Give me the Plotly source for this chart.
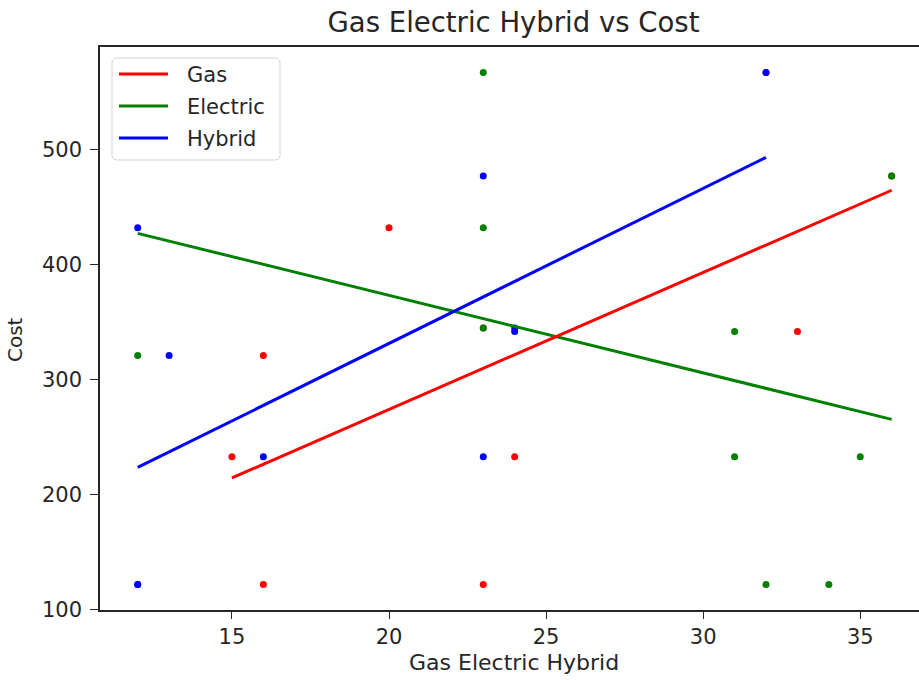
import numpy as np
import plotly.graph_objects as go

# Data (each row = one cost value with gas / electric / hybrid x-values)
cost = [122, 122, 233, 233, 321, 345, 342, 432, 477, 567]
gas = [16, 23, 15, 24, 16, 23, 33, 20, 36, 32]
electric = [32, 34, 31, 35, 12, 23, 31, 23, 36, 23]
hybrid = [12, 12, 16, 23, 13, 24, 24, 12, 23, 32]

series_names = ["Gas", "Electric", "Hybrid"]
series_x = [gas, electric, hybrid]
series_colors = ["red", "green", "blue"]

x_ticks = [15, 20, 25, 30, 35]
y_ticks = [100, 200, 300, 400, 500]

FONT = "DejaVu Sans"
TXT = "#262626"

L, R, T, B, W, H = 100, 0, 47, 70, 919, 680
PW, PH = W - L - R, H - T - B


def px(xp):
    return (xp - L) / PW


def py(yp):
    return 1 - (yp - T) / PH


fig = go.Figure()

# scatter points: red, green, blue
for name, xs, col in zip(series_names, series_x, series_colors):
    fig.add_trace(go.Scatter(x=xs, y=cost, mode="markers",
                             marker=dict(color=col, size=7, line=dict(width=0)),
                             showlegend=False, hoverinfo="skip"))

# regression lines (least-squares fit of the data)
fits = {}
for name, xs in zip(series_names, series_x):
    xa = np.array(xs, dtype=float)
    ya = np.array(cost, dtype=float)
    m, b = np.polyfit(xa, ya, 1)
    xl = [xa.min(), xa.max()]
    fits[name] = (xl, [m * v + b for v in xl])

for name, col in [("Electric", "green"), ("Gas", "red"), ("Hybrid", "blue")]:
    xl, yl = fits[name]
    fig.add_trace(go.Scatter(x=xl, y=yl, mode="lines", name=name,
                             line=dict(color=col, width=3), showlegend=False))

# custom legend (matplotlib-style)
shapes = []
annotations = []
bx0, bx1, by0, by1, r = px(112), px(280), py(58), py(160), 5
rx, ry = r / PW, r / PH
path = (f"M {bx0+rx},{by0} L {bx1-rx},{by0} Q {bx1},{by0} {bx1},{by0-ry} "
        f"L {bx1},{by1+ry} Q {bx1},{by1} {bx1-rx},{by1} L {bx0+rx},{by1} "
        f"Q {bx0},{by1} {bx0},{by1+ry} L {bx0},{by0-ry} Q {bx0},{by0} {bx0+rx},{by0} Z")
shapes.append(dict(type="path", path=path, xref="paper", yref="paper",
                   line=dict(color="#d5d5d5", width=1), fillcolor="rgba(255,255,255,0.8)",
                   layer="above"))
for i, (name, col) in enumerate(zip(series_names, series_colors)):
    yc = 74 + 32 * i
    shapes.append(dict(type="line", xref="paper", yref="paper",
                       x0=px(119), x1=px(168), y0=py(yc), y1=py(yc),
                       line=dict(color=col, width=2.8), layer="above"))
    annotations.append(dict(text=name, xref="paper", yref="paper", x=px(185), y=py(yc + 1),
                            xanchor="left", yanchor="middle", showarrow=False,
                            font=dict(size=21, family=FONT, color=TXT)))

annotations += [
    dict(text="Gas Electric Hybrid", xref="paper", yref="paper",
         x=px(514), y=py(663), xanchor="center", yanchor="middle",
         showarrow=False, font=dict(size=22, family=FONT, color=TXT)),
    dict(text="Cost", xref="paper", yref="paper",
         x=px(15), y=py(340), xanchor="center", yanchor="middle",
         textangle=-90, showarrow=False, font=dict(size=20, family=FONT, color=TXT)),
]

fig.update_layout(
    width=W, height=H,
    margin=dict(l=L, r=R, t=T, b=B),
    paper_bgcolor="white", plot_bgcolor="white",
    font=dict(family=FONT, color=TXT, size=21),
    title=dict(text="Gas Electric Hybrid vs Cost", x=513.5 / W, xref="container",
               xanchor="center", y=1 - 22 / H, yanchor="middle",
               font=dict(size=27.5, family=FONT, color=TXT)),
    showlegend=False,
    xaxis=dict(range=[10.8, 36.87], tickvals=x_ticks, ticks="outside", ticklen=7,
               tickwidth=1.3, tickcolor=TXT, showgrid=False, zeroline=False,
               showline=True, linecolor=TXT, linewidth=1.5, mirror=True,
               tickfont=dict(size=21)),
    yaxis=dict(range=[99.75, 589.25], tickvals=y_ticks, ticks="outside", ticklen=8,
               tickwidth=1.3, tickcolor=TXT, showgrid=False, zeroline=False,
               showline=True, linecolor=TXT, linewidth=1.5, ticklabelstandoff=4,
               tickfont=dict(size=21)),
    shapes=shapes,
    annotations=annotations,
)

fig.write_html("out.html")
